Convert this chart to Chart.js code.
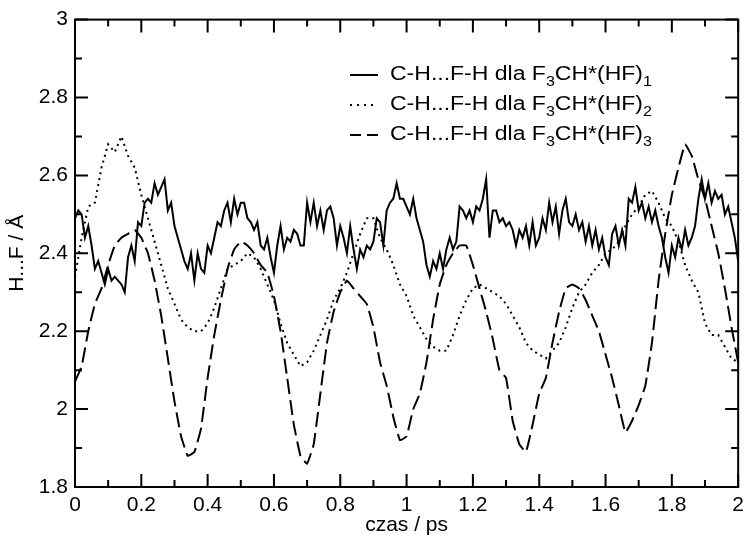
<!DOCTYPE html>
<html>
<head>
<meta charset="utf-8">
<script src="https://cdn.jsdelivr.net/npm/chart.js@4.4.1/dist/chart.umd.min.js"></script>
<style>
  body { margin: 0; background: #fff; }
  #wrap { position: relative; width: 750px; height: 538px; }
  #legend { position: absolute; left: 350px; top: 58px; font: 20px "Liberation Sans", Arial, sans-serif; color: #000; }
  .row { height: 30px; line-height: 30px; white-space: nowrap; }
  .smp { display: inline-block; width: 28px; height: 2px; vertical-align: middle; margin-right: 12px; }
  .txt { display: inline-block; transform: scaleX(1.15); transform-origin: left center; }
  .solid { background: #000; }
  .dot { background: repeating-linear-gradient(to right, #000 0 2px, transparent 2px 7px); }
  .dash { background: linear-gradient(to right, #000 0 11px, transparent 11px 17px, #000 17px 28px); }
  sub { font-size: 14px; vertical-align: -6px; line-height: 0; }
</style>
</head>
<body>
<div id="wrap">
  <canvas id="c" width="750" height="538"></canvas>
  <div id="legend">
    <div class="row"><span class="smp solid"></span><span class="txt">C-H...F-H dla F<sub>3</sub>CH*(HF)<sub>1</sub></span></div>
    <div class="row"><span class="smp dot"></span><span class="txt">C-H...F-H dla F<sub>3</sub>CH*(HF)<sub>2</sub></span></div>
    <div class="row"><span class="smp dash"></span><span class="txt">C-H...F-H dla F<sub>3</sub>CH*(HF)<sub>3</sub></span></div>
  </div>
</div>
<script>
/* --- dane --- */
const X_TICKS = [0, 0.2, 0.4, 0.6, 0.8, 1, 1.2, 1.4, 1.6, 1.8, 2];
const X_LABELS = ['0', '0.2', '0.4', '0.6', '0.8', '1', '1.2', '1.4', '1.6', '1.8', '2'];
const Y_TICKS = [1.8, 2, 2.2, 2.4, 2.6, 2.8, 3];
const Y_LABELS = ['1.8', '2', '2.2', '2.4', '2.6', '2.8', '3'];

// (HF)1 co 0.01 ps
const STEP_HF1 = 0.01;
const HF1 = [
  2.49, 2.51, 2.50, 2.44, 2.47, 2.42, 2.36, 2.38, 2.35, 2.32,
  2.36, 2.33, 2.34, 2.33, 2.32, 2.30, 2.39, 2.42, 2.38, 2.48,
  2.47, 2.53, 2.54, 2.53, 2.58, 2.55, 2.57, 2.59, 2.51, 2.53,
  2.47, 2.44, 2.41, 2.38, 2.36, 2.40, 2.33, 2.40, 2.36, 2.35,
  2.42, 2.40, 2.44, 2.48, 2.47, 2.51, 2.53, 2.48, 2.54, 2.50,
  2.53, 2.53, 2.49, 2.48, 2.46, 2.48, 2.42, 2.41, 2.44, 2.39,
  2.35, 2.42, 2.47, 2.41, 2.44, 2.43, 2.46, 2.45, 2.42, 2.42,
  2.53, 2.48, 2.53, 2.47, 2.51, 2.46, 2.51, 2.52, 2.49, 2.42,
  2.47, 2.44, 2.40, 2.47, 2.41, 2.36, 2.41, 2.39, 2.42, 2.41,
  2.43, 2.49, 2.48, 2.42, 2.51, 2.53, 2.54, 2.58, 2.54, 2.54,
  2.52, 2.50, 2.54, 2.49, 2.46, 2.43, 2.37, 2.34, 2.38, 2.36,
  2.40, 2.36, 2.41, 2.44, 2.41, 2.43, 2.52, 2.51, 2.49, 2.51,
  2.48, 2.52, 2.51, 2.54, 2.59, 2.44, 2.51, 2.51, 2.48, 2.49,
  2.47, 2.48, 2.46, 2.42, 2.46, 2.44, 2.47, 2.42, 2.48, 2.42,
  2.44, 2.49, 2.46, 2.53, 2.48, 2.52, 2.45, 2.51, 2.54, 2.48,
  2.47, 2.50, 2.46, 2.48, 2.43, 2.47, 2.42, 2.46, 2.41, 2.44,
  2.39, 2.37, 2.45, 2.47, 2.42, 2.46, 2.42, 2.54, 2.53, 2.57,
  2.51, 2.53, 2.49, 2.52, 2.48, 2.51, 2.47, 2.44, 2.39, 2.35,
  2.42, 2.39, 2.44, 2.41, 2.46, 2.42, 2.44, 2.47, 2.54, 2.59,
  2.54, 2.58, 2.53, 2.56, 2.54, 2.55, 2.50, 2.52, 2.48, 2.44,
  2.38
];

// (HF)2 co 0.02 ps
const STEP_HF2 = 0.02;
const HF2 = [
  2.34, 2.44, 2.52, 2.53, 2.62, 2.68, 2.66, 2.70, 2.65, 2.62,
  2.55, 2.49, 2.43, 2.37, 2.31, 2.27, 2.23, 2.21, 2.20, 2.20,
  2.22, 2.26, 2.31, 2.36, 2.37, 2.38, 2.40, 2.39, 2.36, 2.32,
  2.28, 2.22, 2.17, 2.14, 2.11, 2.12, 2.15, 2.19, 2.23, 2.28,
  2.31, 2.35, 2.40, 2.45, 2.49, 2.49, 2.44, 2.41, 2.37, 2.32,
  2.29, 2.24, 2.21, 2.18, 2.16, 2.15, 2.15, 2.19, 2.24, 2.28,
  2.31, 2.32, 2.31, 2.30, 2.29, 2.27, 2.24, 2.21, 2.17, 2.15,
  2.14, 2.13, 2.15, 2.17, 2.21, 2.26, 2.30, 2.32, 2.35, 2.37,
  2.40, 2.41, 2.43, 2.47, 2.50, 2.52, 2.55, 2.56, 2.53, 2.49,
  2.47, 2.43, 2.37, 2.33, 2.30, 2.22, 2.19, 2.19, 2.16, 2.13,
  2.12
];

// (HF)3 co 0.02 ps
const STEP_HF3 = 0.02;
const HF3 = [
  2.07, 2.11, 2.20, 2.27, 2.31, 2.37, 2.42, 2.44, 2.45, 2.46,
  2.44, 2.40, 2.33, 2.24, 2.13, 2.02, 1.93, 1.88, 1.89, 1.95,
  2.08, 2.19, 2.28, 2.36, 2.41, 2.43, 2.42, 2.40, 2.37, 2.35,
  2.29, 2.20, 2.08, 1.96, 1.88, 1.86, 1.91, 2.04, 2.17, 2.25,
  2.30, 2.33, 2.31, 2.29, 2.27, 2.21, 2.12, 2.06, 1.98, 1.92,
  1.93, 2.00, 2.04, 2.12, 2.23, 2.32, 2.37, 2.40, 2.42, 2.42,
  2.37, 2.31, 2.25, 2.18, 2.10, 2.08, 1.97, 1.91, 1.89, 1.96,
  2.04, 2.08, 2.17, 2.25, 2.31, 2.32, 2.31, 2.28, 2.24, 2.20,
  2.14, 2.08, 2.01, 1.94, 1.97, 2.01, 2.06, 2.17, 2.33, 2.45,
  2.55, 2.62, 2.68, 2.65, 2.59, 2.54, 2.47, 2.40, 2.31, 2.21,
  2.12
];

const FONT = { family: '"Liberation Sans", Arial, sans-serif', size: 21 };

function toPoints(values, step) {
  return values.map((v, i) => ({ x: +(i * step).toFixed(2), y: v }));
}

/* ramka i znaczniki skierowane do środka */
const frameTicks = {
  id: 'frameTicks',
  afterDatasetsDraw(chart) {
    const { ctx, chartArea: a, scales: { x, y } } = chart;
    ctx.save();
    ctx.strokeStyle = '#000';
    ctx.lineWidth = 2;
    ctx.strokeRect(a.left, a.top, a.right - a.left, a.bottom - a.top);
    ctx.beginPath();
    for (let k = 0; k <= 20; k++) {
      const px = x.getPixelForValue(k / 10);
      const len = k % 2 === 0 ? 13 : 7;
      ctx.moveTo(px, a.bottom); ctx.lineTo(px, a.bottom - len);
      ctx.moveTo(px, a.top); ctx.lineTo(px, a.top + len);
    }
    for (let k = 18; k <= 30; k++) {
      const py = y.getPixelForValue(k / 10);
      const len = k % 2 === 0 ? 13 : 7;
      ctx.moveTo(a.left, py); ctx.lineTo(a.left + len, py);
      ctx.moveTo(a.right, py); ctx.lineTo(a.right - len, py);
    }
    ctx.stroke();
    ctx.restore();
  }
};

new Chart(document.getElementById('c'), {
  type: 'line',
  data: {
    datasets: [
      { label: '(HF)1', data: toPoints(HF1, STEP_HF1), borderColor: '#000', borderWidth: 2, pointRadius: 0, tension: 0 },
      { label: '(HF)2', data: toPoints(HF2, STEP_HF2), borderColor: '#000', borderWidth: 2, borderDash: [2, 4], pointRadius: 0, tension: 0 },
      { label: '(HF)3', data: toPoints(HF3, STEP_HF3), borderColor: '#000', borderWidth: 2, borderDash: [15, 6], pointRadius: 0, tension: 0.1 }
    ]
  },
  options: {
    responsive: false,
    animation: false,
    layout: { padding: { left: 0, right: 7, top: 19, bottom: 0 } },
    plugins: { legend: { display: false }, tooltip: { enabled: false } },
    scales: {
      x: {
        type: 'linear', min: 0, max: 2,
        afterFit(s) { s.height = 51; },
        afterBuildTicks(s) { s.ticks = X_TICKS.map(v => ({ value: v })); },
        ticks: { callback: (v, i) => X_LABELS[i], padding: 6, font: FONT, color: '#000', maxRotation: 0 },
        grid: { display: false, drawTicks: false },
        border: { display: false },
        title: { display: true, text: 'czas / ps', font: FONT, color: '#000', padding: { top: 0, bottom: 0 } }
      },
      y: {
        min: 1.8, max: 3,
        afterFit(s) { s.width = 75; },
        afterBuildTicks(s) { s.ticks = Y_TICKS.map(v => ({ value: v })); },
        ticks: { callback: (v, i) => Y_LABELS[i], padding: 7, font: FONT, color: '#000' },
        grid: { display: false, drawTicks: false },
        border: { display: false },
        title: { display: true, text: 'H...F / Å', font: FONT, color: '#000', padding: { top: 5, bottom: 4 } }
      }
    }
  },
  plugins: [frameTicks]
});
</script>
</body>
</html>
